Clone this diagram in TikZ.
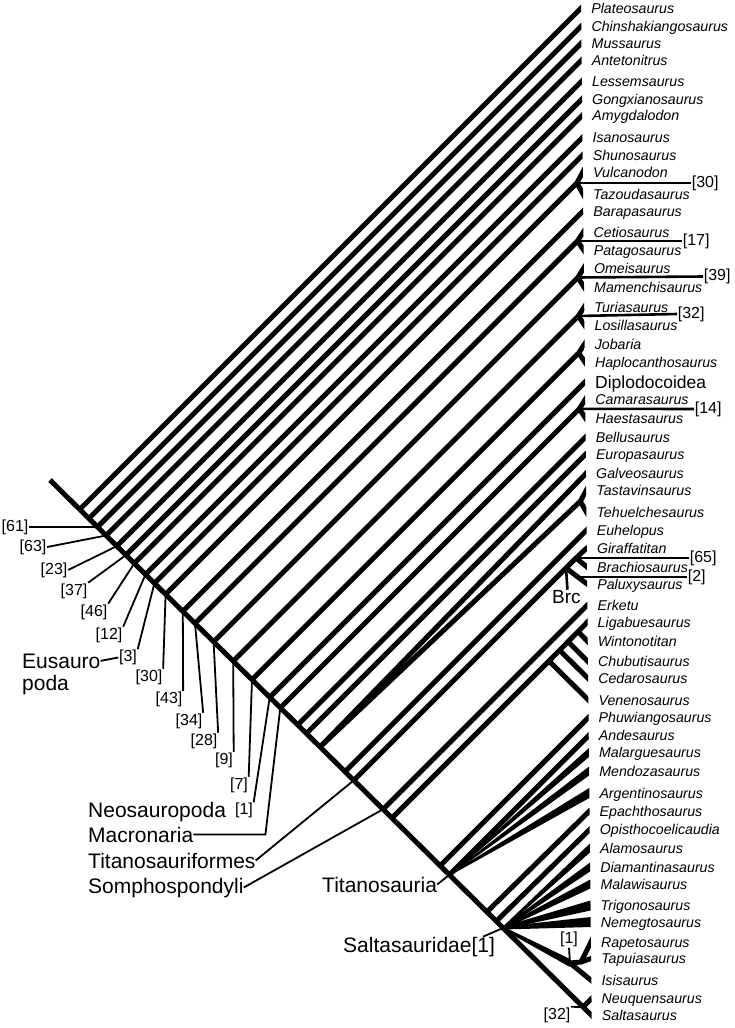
\documentclass[tikz,border=0pt]{standalone}
\usepackage{fontspec}
\setmainfont{Liberation Sans}
\usetikzlibrary{calc}
\tikzset{
  branch/.style={line width=5pt},
  tipbranch/.style={branch, shorten >=-8pt},
  pointer/.style={line width=1.8pt},
  bar/.style={line width=2.6pt},
  taxon/.style={anchor=base west, inner sep=0pt, font=\fontsize{14.2}{16}\selectfont\itshape},
  group/.style={anchor=base west, inner sep=0pt, font=\fontsize{21}{24}\selectfont},
  support/.style={inner sep=0.6pt, font=\fontsize{16}{18}\selectfont}
}
\begin{document}
\begin{tikzpicture}[x=1pt, y=-1pt]
\useasboundingbox (0,0) rectangle (734,1028);

% tips
\coordinate (tplat) at (581.1,8);
\coordinate (tchin) at (581.3,26);
\coordinate (tmuss) at (581.5,43);
\coordinate (tante) at (581.6,60);
\coordinate (tless) at (581.9,81);
\coordinate (tgong) at (582.0,99);
\coordinate (tamyg) at (582.2,115.5);
\coordinate (tisan) at (582.4,137.5);
\coordinate (tshun) at (582.6,155);
\coordinate (tvulc) at (582.8,172);
\coordinate (ttazo) at (583.0,194);
\coordinate (tbara) at (583.2,211);
\coordinate (tceti) at (583.4,232);
\coordinate (tpata) at (583.6,250);
\coordinate (tomei) at (583.8,268);
\coordinate (tmame) at (584.0,287);
\coordinate (tturi) at (584.2,307);
\coordinate (tlosi) at (584.4,325);
\coordinate (tjoba) at (584.6,344);
\coordinate (thapl) at (584.8,362);
\coordinate (tdipl) at (585.0,382);
\coordinate (tcama) at (585.2,399.5);
\coordinate (thaes) at (585.4,418);
\coordinate (tbell) at (585.6,437);
\coordinate (teuro) at (585.8,454);
\coordinate (tgalv) at (586.0,473.5);
\coordinate (ttast) at (586.2,490.5);
\coordinate (ttehu) at (586.4,512);
\coordinate (teuhe) at (586.6,530);
\coordinate (tgira) at (586.8,548);
\coordinate (tbrac) at (587.0,567);
\coordinate (tpalu) at (587.1,584);
\coordinate (terke) at (587.4,605);
\coordinate (tliga) at (587.5,622);
\coordinate (twint) at (587.7,641.5);
\coordinate (tchub) at (587.9,661.5);
\coordinate (tceda) at (588.1,678.5);
\coordinate (tvene) at (588.4,700);
\coordinate (tphuw) at (588.5,717.5);
\coordinate (tande) at (588.7,735.5);
\coordinate (tmala) at (588.9,752.5);
\coordinate (tmend) at (589.1,771);
\coordinate (targe) at (589.3,793);
\coordinate (tepac) at (589.5,811);
\coordinate (topis) at (589.7,829.5);
\coordinate (talam) at (589.9,848);
\coordinate (tdiam) at (590.1,867);
\coordinate (tmalw) at (590.3,884);
\coordinate (ttrig) at (590.5,905.5);
\coordinate (tnemg) at (590.7,922);
\coordinate (trape) at (590.9,942);
\coordinate (ttapu) at (591.1,958.5);
\coordinate (tisis) at (591.3,980.5);
\coordinate (tneuq) at (591.5,998.5);
\coordinate (tsalt) at (591.7,1015.5);

% backbone nodes
\coordinate (root) at (50,480);
\coordinate (n1) at (79.7,509.4);
\coordinate (n2) at (88.9,518.5);
\coordinate (n3) at (97.5,527.0);
\coordinate (n4) at (106.1,535.5);
\coordinate (n5) at (116.8,546.1);
\coordinate (n6) at (125.9,555.1);
\coordinate (n7) at (134.3,563.4);
\coordinate (n8) at (145.5,574.4);
\coordinate (n9) at (154.4,583.3);
\coordinate (n10) at (165.6,594.3);
\coordinate (n11) at (182.8,611.3);
\coordinate (n12) at (195.0,623.4);
\coordinate (n13) at (213.6,641.8);
\coordinate (n14) at (233.2,661.2);
\coordinate (n15) at (252.0,679.7);
\coordinate (n16) at (269.7,697.3);
\coordinate (n17) at (280.3,707.8);
\coordinate (n18) at (297.7,725.0);
\coordinate (n19) at (306.3,733.5);
\coordinate (n20) at (320.0,747.0);
\coordinate (n21) at (344.9,771.7);
\coordinate (n22) at (353.7,780.4);
\coordinate (n23) at (383.0,809.3);
\coordinate (n24) at (391.9,818.1);
\coordinate (n25) at (440.1,865.8);
\coordinate (n26) at (449.3,874.9);
\coordinate (n27) at (487.7,911.1);
\coordinate (n28) at (497.1,920.4);
\coordinate (n29) at (503,928);
\coordinate (n30) at (583,1007.1);

% crown nodes
\coordinate (vt) at (576.9,183);
\coordinate (cp) at (577.5,241);
\coordinate (om) at (577.9,277.5);
\coordinate (tl) at (578.3,316);
\coordinate (jh) at (578.7,353);
\coordinate (ch) at (579.3,408.8);
\coordinate (tt) at (580.3,501.3);
\coordinate (brc) at (566,568);
\coordinate (gb) at (576,558);
\coordinate (bp) at (577.8,577);
\coordinate (lroot) at (549,661);
\coordinate (l1) at (559.7,650.3);
\coordinate (l2) at (568.2,641.8);
\coordinate (l3) at (578.2,631.8);
\coordinate (rti) at (570,963);
\coordinate (rt) at (581,962);

\begin{scope}
\clip (-5,-5) -- (580.95,-5) -- (591.85,1033) -- (-5,1033) -- cycle;
\draw[tipbranch] (root) -- (tsalt);
\draw[tipbranch] (n1) -- (tplat);
\draw[tipbranch] (n2) -- (tchin);
\draw[tipbranch] (n3) -- (tmuss);
\draw[tipbranch] (n4) -- (tante);
\draw[tipbranch] (n5) -- (tless);
\draw[tipbranch] (n6) -- (tgong);
\draw[tipbranch] (n7) -- (tamyg);
\draw[tipbranch] (n8) -- (tisan);
\draw[tipbranch] (n9) -- (tshun);
\draw[tipbranch] (n10) -- (vt) -- (tvulc);
\draw[tipbranch] (vt) -- (ttazo);
\draw[tipbranch] (n11) -- (tbara);
\draw[tipbranch] (n12) -- (cp) -- (tceti);
\draw[tipbranch] (cp) -- (tpata);
\draw[tipbranch] (n13) -- (om) -- (tomei);
\draw[tipbranch] (om) -- (tmame);
\draw[tipbranch] (n14) -- (tl) -- (tturi);
\draw[tipbranch] (tl) -- (tlosi);
\draw[tipbranch] (n15) -- (jh) -- (tjoba);
\draw[tipbranch] (jh) -- (thapl);
\draw[tipbranch] (n16) -- (tdipl);
\draw[tipbranch] (n17) -- (ch) -- (tcama);
\draw[tipbranch] (ch) -- (thaes);
\draw[tipbranch] (n18) -- (tbell);
\draw[tipbranch] (n19) -- (teuro);
\draw[tipbranch] (n20) -- (tgalv);
\draw[tipbranch] (n20) -- (tt) -- (ttast);
\draw[tipbranch] (tt) -- (ttehu);
\draw[tipbranch] (n21) -- (teuhe);
\draw[tipbranch] (n22) -- (brc) -- (gb) -- (tgira);
\draw[tipbranch] (gb) -- (tbrac);
\draw[tipbranch] (brc) -- (bp) -- (tpalu);
\draw[tipbranch] (n23) -- (terke);
\draw[tipbranch] (n24) -- (lroot) -- (tliga);
\draw[tipbranch] (lroot) -- (tvene);
\draw[tipbranch] (l1) -- (tceda);
\draw[tipbranch] (l2) -- (tchub);
\draw[tipbranch] (l3) -- (twint);
\draw[tipbranch] (n25) -- (tphuw);
\draw[tipbranch] (n26) -- (tande);
\fill ($(n26)+(0,-1)$) -- ($(tmala)+(0,-4.5)$) -- ++(12,0) -- ++(0,9) -- ($(tmala)+(0,4.5)$) -- ($(n26)+(0,1)$) -- cycle;
\fill ($(n26)+(0,-1)$) -- ($(tmend)+(0,-4.5)$) -- ++(12,0) -- ++(0,9) -- ($(tmend)+(0,4.5)$) -- ($(n26)+(0,1)$) -- cycle;
\fill ($(n26)+(0,-1)$) -- ($(targe)+(0,-5)$) -- ++(12,0) -- ++(0,10) -- ($(targe)+(0,5)$) -- ($(n26)+(0,1)$) -- cycle;
\draw[tipbranch] (n27) -- (tepac);
\draw[tipbranch] (n28) -- (topis);
\fill ($(n29)+(0,-1.5)$) -- ($(talam)+(0,-4.5)$) -- ++(12,0) -- ++(0,9) -- ($(talam)+(0,4.5)$) -- ($(n29)+(0,1.5)$) -- cycle;
\fill ($(n29)+(0,-1.5)$) -- ($(tdiam)+(0,-4.5)$) -- ++(12,0) -- ++(0,9) -- ($(tdiam)+(0,4.5)$) -- ($(n29)+(0,1.5)$) -- cycle;
\fill ($(n29)+(0,-1.5)$) -- ($(tmalw)+(0,-4.5)$) -- ++(12,0) -- ++(0,9) -- ($(tmalw)+(0,4.5)$) -- ($(n29)+(0,1.5)$) -- cycle;
\fill ($(n29)+(0,-1.5)$) -- ($(ttrig)+(0,-5)$) -- ++(12,0) -- ++(0,10) -- ($(ttrig)+(0,5)$) -- ($(n29)+(0,1.5)$) -- cycle;
\fill ($(n29)+(0,-1.5)$) -- ($(tnemg)+(0,-5)$) -- ++(12,0) -- ++(0,10) -- ($(tnemg)+(0,5)$) -- ($(n29)+(0,1.5)$) -- cycle;
\fill ($(n29)+(0,-1.5)$) -- ($(rti)+(0,-4)$) -- ($(rti)+(0,4)$) -- ($(n29)+(0,1.5)$) -- cycle;
\draw[tipbranch] (rti) -- (tisis);
\draw[tipbranch] (rti) -- (rt) -- (trape);
\draw[tipbranch] (rt) -- (ttapu);
\draw[tipbranch] (n30) -- (tneuq);
\end{scope}

% taxa
\node[taxon] (plat) at (591.1,13) {Plateosaurus};
\node[taxon] (chin) at (591.3,31) {Chinshakiangosaurus};
\node[taxon] (muss) at (591.5,48) {Mussaurus};
\node[taxon] (ante) at (591.6,65) {Antetonitrus};
\node[taxon] (less) at (591.9,86) {Lessemsaurus};
\node[taxon] (gong) at (592.0,104) {Gongxianosaurus};
\node[taxon] (amyg) at (592.2,120.5) {Amygdalodon};
\node[taxon] (isan) at (592.4,142.5) {Isanosaurus};
\node[taxon] (shun) at (592.6,160) {Shunosaurus};
\node[taxon] (vulc) at (592.8,177) {Vulcanodon};
\node[taxon] (tazo) at (593.0,199) {Tazoudasaurus};
\node[taxon] (bara) at (593.2,216) {Barapasaurus};
\node[taxon] (ceti) at (593.4,237) {Cetiosaurus};
\node[taxon] (pata) at (593.6,255) {Patagosaurus};
\node[taxon] (omei) at (593.8,273) {Omeisaurus};
\node[taxon] (mame) at (594.0,292) {Mamenchisaurus};
\node[taxon] (turi) at (594.2,312) {Turiasaurus};
\node[taxon] (losi) at (594.4,330) {Losillasaurus};
\node[taxon] (joba) at (594.6,349) {Jobaria};
\node[taxon] (hapl) at (594.8,367) {Haplocanthosaurus};
\node[anchor=base west, inner sep=0pt, font=\fontsize{17.5}{20}\selectfont] (dipl) at (595,388.5) {Diplodocoidea};
\node[taxon] (cama) at (595.2,404.5) {Camarasaurus};
\node[taxon] (haes) at (595.4,423) {Haestasaurus};
\node[taxon] (bell) at (595.6,442) {Bellusaurus};
\node[taxon] (euro) at (595.8,459) {Europasaurus};
\node[taxon] (galv) at (596.0,478.5) {Galveosaurus};
\node[taxon] (tast) at (596.2,495.5) {Tastavinsaurus};
\node[taxon] (tehu) at (596.4,517) {Tehuelchesaurus};
\node[taxon] (euhe) at (596.6,535) {Euhelopus};
\node[taxon] (gira) at (596.8,553) {Giraffatitan};
\node[taxon] (brac) at (597.0,572) {Brachiosaurus};
\node[taxon] (palu) at (597.1,589) {Paluxysaurus};
\node[taxon] (erke) at (597.4,610) {Erketu};
\node[taxon] (liga) at (597.5,627) {Ligabuesaurus};
\node[taxon] (wint) at (597.7,646.5) {Wintonotitan};
\node[taxon] (chub) at (597.9,666.5) {Chubutisaurus};
\node[taxon] (ceda) at (598.1,683.5) {Cedarosaurus};
\node[taxon] (vene) at (598.4,705) {Venenosaurus};
\node[taxon] (phuw) at (598.5,722.5) {Phuwiangosaurus};
\node[taxon] (ande) at (598.7,740.5) {Andesaurus};
\node[taxon] (mala) at (598.9,757.5) {Malarguesaurus};
\node[taxon] (mend) at (599.1,776) {Mendozasaurus};
\node[taxon] (arge) at (599.3,798) {Argentinosaurus};
\node[taxon] (epac) at (599.5,816) {Epachthosaurus};
\node[taxon] (opis) at (599.7,834.5) {Opisthocoelicaudia};
\node[taxon] (alam) at (599.9,853) {Alamosaurus};
\node[taxon] (diam) at (600.1,872) {Diamantinasaurus};
\node[taxon] (malw) at (600.3,889) {Malawisaurus};
\node[taxon] (trig) at (600.5,910.5) {Trigonosaurus};
\node[taxon] (nemg) at (600.7,927) {Nemegtosaurus};
\node[taxon] (rape) at (600.9,947) {Rapetosaurus};
\node[taxon] (tapu) at (601.1,963.5) {Tapuiasaurus};
\node[taxon] (isis) at (601.3,985.5) {Isisaurus};
\node[taxon] (neuq) at (601.5,1003.5) {Neuquensaurus};
\node[taxon] (salt) at (601.7,1020.5) {Saltasaurus};

% support values on the right
\node[support, anchor=west] (r30) at (691,183) {[30]};
\node[support, anchor=west] (r17) at (682,241) {[17]};
\node[support, anchor=west] (r39) at (703,276.5) {[39]};
\node[support, anchor=west] (r32) at (677,314) {[32]};
\node[support, anchor=west] (r14) at (694,409) {[14]};
\node[support, anchor=west] (r65) at (689,558) {[65]};
\node[support, anchor=west] (r2) at (687,577) {[2]};
\draw[bar] (vt) -- (r30.west);
\draw[bar] (cp) -- (r17.west);
\draw[bar] (om) -- (r39.west);
\draw[bar] (tl) -- (r32.west);
\draw[bar] (ch) -- (r14.west);
\draw[bar] (gb) -- (r65.west);
\draw[bar] (bp) -- (r2.west);
\node[anchor=base west, inner sep=0pt, font=\fontsize{19}{22}\selectfont] (brclab) at (552,603) {Brc};
\draw[bar] ($(brclab.north)+(1,0)$) -- (brc);

% support values on the left
\node[support] (s61) at (15,527) {[61]};
\node[support] (s63) at (33,547) {[63]};
\node[support] (s23) at (54,570) {[23]};
\node[support] (s37) at (74,591) {[37]};
\node[support] (s46) at (94,612) {[46]};
\node[support] (s12) at (109,635) {[12]};
\node[support] (s3) at (128,657.5) {[3]};
\node[support] (s30) at (149,677) {[30]};
\node[support] (s43) at (169,699) {[43]};
\node[support] (s34) at (189,721) {[34]};
\node[support] (s28) at (204,741) {[28]};
\node[support] (s9) at (224,760) {[9]};
\node[support] (s7) at (239,785) {[7]};
\node[support] (s1) at (244,810.5) {[1]};
\draw[pointer] (s61.east) -- (n3);
\draw[pointer] (s63.east) -- (n4);
\draw[pointer] (s23.east) -- (n5);
\draw[pointer] (s37.north east) -- (n6);
\draw[pointer] (s46.north east) -- (n7);
\draw[pointer] (s12.north east) -- (n8);
\draw[pointer] (s3.north east) -- (n9);
\draw[pointer] (s30.north east) -- (n10);
\draw[pointer] (s43.north east) -- (n11);
\draw[pointer] (s34.north east) -- (n12);
\draw[pointer] (s28.north east) -- (n13);
\draw[pointer] (s9.north east) -- (n14);
\draw[pointer] (s7.north east) -- (n15);
\draw[pointer] (s1.north east) -- (n16);

% clade names
\node[group] (eusa) at (22,668) {Eusauro};
\node[group] (poda) at (22,690) {poda};
\node[group] (neos) at (88,817) {Neosauropoda};
\node[group] (macr) at (88,842) {Macronaria};
\node[group] (tifo) at (88,868) {Titanosauriformes};
\node[group] (soph) at (88,893) {Somphospondyli};
\node[group] (tita) at (322,892) {Titanosauria};
\node[group] (sald) at (343,952) {Saltasauridae[1]};
\draw[pointer] (eusa.east) -- (s3.west);
\draw[pointer] (macr.east) -- ++(72,0) -- (n17);
\draw[pointer] (tifo.east) -- (n22);
\draw[pointer] (soph.east) -- (n23);
\draw[pointer] (tita.east) -- (n26);
\draw[pointer] ($(sald.north east)+(-12,0)$) -- (n29);
\node[support] (b32) at (557,1015) {[32]};
\node[support] (b1) at (569,939.5) {[1]};
\draw[pointer] (b32.north east) -- (n30);
\draw[pointer] (b1.south) -- (rti);
\end{tikzpicture}
\end{document}
